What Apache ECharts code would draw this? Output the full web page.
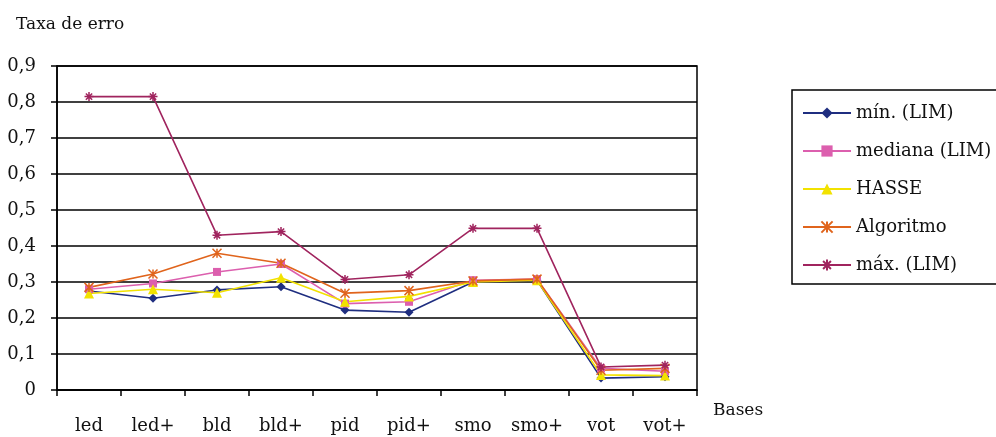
<!DOCTYPE html>
<html>
<head>
<meta charset="utf-8">
<script src="https://cdn.jsdelivr.net/npm/echarts@6/dist/echarts.min.js"></script>
<style>
html,body{margin:0;padding:0;background:#fff;}
#chart{width:996px;height:437px;}
</style>
</head>
<body>
<div id="chart"></div>
<script>
var categories = ['led','led+','bld','bld+','pid','pid+','smo','smo+','vot','vot+'];
var minLIM     = [0.275, 0.255, 0.278, 0.287, 0.222, 0.216, 0.300, 0.305, 0.033, 0.037];
var medianaLIM = [0.280, 0.296, 0.328, 0.350, 0.240, 0.245, 0.305, 0.308, 0.060, 0.052];
var hasse      = [0.268, 0.280, 0.270, 0.312, 0.245, 0.260, 0.300, 0.305, 0.042, 0.040];
var algoritmo  = [0.285, 0.322, 0.380, 0.352, 0.269, 0.276, 0.303, 0.308, 0.055, 0.060];
var maxLIM     = [0.815, 0.815, 0.430, 0.440, 0.307, 0.320, 0.449, 0.449, 0.064, 0.069];
var seriesNames = ['mín. (LIM)','mediana (LIM)','HASSE','Algoritmo','máx. (LIM)'];
var yTicks = [0,0.1,0.2,0.3,0.4,0.5,0.6,0.7,0.8,0.9];

var serif = 'DejaVu Serif';
var chart = echarts.init(document.getElementById('chart'), null, {renderer:'canvas'});

function lineSeries(name, data, color, symbol, size, stroked){
  return {
    name: name, type: 'line', data: data,
    symbol: symbol, symbolSize: size, showSymbol: true,
    lineStyle: {color: color, width: 1.6},
    itemStyle: stroked ? {color: 'rgba(0,0,0,0)', borderColor: color, borderWidth: 1.5}
                       : {color: color, borderColor: color, borderWidth: 0},
    emphasis: {disabled: true},
    animation: false
  };
}

chart.setOption({
  backgroundColor: '#ffffff',
  animation: false,
  title: {
    text: 'Taxa de erro', left: 11, top: 11,
    textStyle: {fontFamily: serif, fontSize: 17, fontWeight: 'normal', color: '#111'}
  },
  legend: {
    orient: 'vertical', left: 792, top: 90,
    padding: [14, 60, 10, 10],
    itemWidth: 48, itemHeight: 14, itemGap: 20,
    borderColor: '#000', borderWidth: 1.5,
    textStyle: {fontFamily: serif, fontSize: 18, color: '#111'},
    data: seriesNames
  },
  grid: {
    left: 57, right: 299, top: 66, bottom: 47,
    show: true, borderColor: '#000', borderWidth: 1.5, backgroundColor: '#fff'
  },
  xAxis: {
    type: 'category', data: categories, boundaryGap: true,
    name: 'Bases', nameLocation: 'end', nameGap: 16,
    nameTextStyle: {fontFamily: serif, fontSize: 17, color: '#111', verticalAlign: 'top', padding: [12, 0, 0, 0]},
    axisLine: {lineStyle: {color: '#000', width: 1.5}},
    axisTick: {show: true, length: 6, inside: false, alignWithLabel: false, lineStyle: {color: '#000', width: 1.5}},
    axisLabel: {fontFamily: serif, fontSize: 18, color: '#111', margin: 27, interval: 0}
  },
  yAxis: {
    type: 'value', min: 0, max: 0.9, interval: 0.1,
    axisLine: {show: true, lineStyle: {color: '#000', width: 1.5}},
    axisTick: {show: true, length: 6, lineStyle: {color: '#000', width: 1.5}},
    axisLabel: {
      fontFamily: serif, fontSize: 18, color: '#111', margin: 21,
      formatter: function(v){ return v === 0 ? '0' : v.toFixed(1).replace('.', ','); }
    },
    splitLine: {show: true, lineStyle: {color: '#000', width: 1.5}}
  },
  series: [
    lineSeries(seriesNames[0], minLIM, '#1f2e80', 'diamond', 9, false),
    lineSeries(seriesNames[1], medianaLIM, '#dc5fae', 'rect', 8, false),
    lineSeries(seriesNames[2], hasse, '#f2e200', 'triangle', 10, false),
    lineSeries(seriesNames[3], algoritmo, '#e0641c', 'path://M0,0L10,10M10,0L0,10M5,0L5,10', 9, true),
    lineSeries(seriesNames[4], maxLIM, '#a0245e', 'path://M5,0L5,10M0,5L10,5M1.5,1.5L8.5,8.5M8.5,1.5L1.5,8.5', 9, true)
  ]
});
</script>
</body>
</html>
